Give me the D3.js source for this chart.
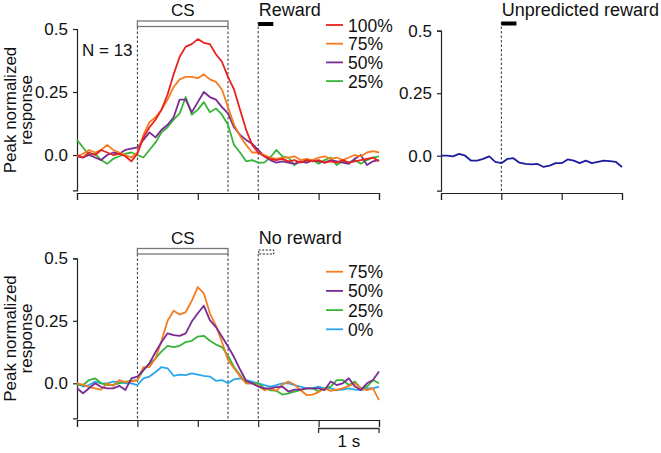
<!DOCTYPE html>
<html><head><meta charset="utf-8">
<script src="https://cdn.jsdelivr.net/npm/d3@7"></script>
<style>
body{margin:0;background:#fff;}
svg{display:block;font-family:"Liberation Sans",Arial,Helvetica,sans-serif;}
</style></head><body>
<svg id="c" width="661" height="453"></svg>
<script>
// ---------- DATA ----------
// time grid (s, relative to CS onset), 0.1 s steps from -1 to 4
const time = d3.range(51).map(i => +(-1 + i * 0.1).toFixed(2));
// time grid for unpredicted reward (s, relative to reward), -1 to 2
const timeUnpred = d3.range(31).map(i => +(-1 + i * 0.1).toFixed(2));

const topLabels = ["100%", "75%", "50%", "25%"];
const bottomLabels = ["75%", "50%", "25%", "0%"];
const yTickValues = [0, 0.25, 0.5];
const yTickLabels = ["0.0", "0.25", "0.5"];
const xTicksMain = [-1, 0, 1, 2, 3, 4];
const xTicksUnpred = [-1, 0, 1, 2];

// Rewarded trials
const top100 = [0.0,-0.01,0.01,0.0,0.02,0.01,0.0,0.005,-0.005,-0.025,
  0.005,0.07,0.11,0.14,0.18,0.24,0.32,0.39,0.43,0.44,
  0.46,0.445,0.44,0.40,0.37,0.31,0.26,0.18,0.10,0.04,
  0.01,-0.005,-0.015,-0.02,-0.015,-0.025,-0.02,-0.03,-0.02,-0.025,
  -0.02,-0.03,-0.025,-0.03,-0.02,-0.03,-0.025,-0.02,-0.015,-0.01,-0.025];
const top75 = [-0.005,0.005,0.02,0.01,0.02,0.04,0.02,0.01,0.0,-0.01,
  0.01,0.08,0.13,0.15,0.18,0.22,0.27,0.30,0.31,0.31,
  0.305,0.32,0.30,0.29,0.26,0.19,0.12,0.075,0.04,0.01,
  0.01,0.0,-0.01,-0.015,-0.01,-0.01,-0.005,-0.02,-0.015,-0.02,
  -0.01,-0.005,-0.015,-0.01,-0.02,-0.01,0.0,-0.005,0.01,0.015,0.01];
const top50 = [-0.005,-0.01,0.0,-0.01,-0.02,0.0,0.01,0.005,0.02,0.025,
  0.03,0.06,0.09,0.07,0.10,0.12,0.15,0.22,0.22,0.17,
  0.21,0.25,0.23,0.22,0.19,0.165,0.11,0.08,0.06,0.045,
  0.02,-0.005,-0.02,-0.03,-0.025,-0.03,-0.035,-0.025,-0.03,-0.02,
  -0.025,-0.03,-0.02,-0.025,-0.03,-0.035,-0.015,0.0,-0.04,-0.025,-0.02];
const top25 = [0.06,0.03,0.0,0.005,-0.02,-0.035,-0.015,-0.005,0.005,0.01,
  0.0,-0.01,0.02,0.05,0.09,0.11,0.14,0.165,0.23,0.16,
  0.18,0.21,0.17,0.185,0.16,0.12,0.04,0.01,-0.025,-0.02,
  -0.03,-0.03,-0.01,0.02,-0.005,-0.01,-0.04,-0.025,-0.03,-0.02,
  -0.035,-0.02,-0.01,-0.04,-0.025,-0.03,-0.02,-0.035,-0.02,-0.01,-0.005];

// Unpredicted reward
const unpredicted = [0.0,0.0,-0.003,0.007,0.0,-0.02,-0.02,-0.013,-0.003,-0.025,
  -0.03,-0.013,-0.01,-0.028,-0.033,-0.035,-0.033,-0.045,-0.04,-0.03,
  -0.03,-0.015,-0.02,-0.03,-0.02,-0.03,-0.025,-0.02,-0.022,-0.025,-0.045];

// Unrewarded trials
const bot75 = [0.0,-0.005,-0.015,-0.02,-0.025,0.0,-0.01,0.013,0.005,0.007,
  0.013,0.065,0.065,0.10,0.17,0.25,0.29,0.275,0.285,0.33,
  0.385,0.36,0.28,0.23,0.165,0.093,0.06,0.027,0.0,0.0,
  -0.01,-0.027,-0.02,-0.03,-0.005,0.007,-0.005,-0.027,-0.047,-0.045,
  -0.035,-0.02,-0.03,-0.025,-0.02,-0.01,0.0,-0.02,-0.027,-0.02,-0.067];
const bot50 = [-0.02,-0.04,-0.02,0.0,-0.015,-0.02,-0.02,-0.01,-0.027,0.02,
  0.027,0.053,0.08,0.125,0.165,0.20,0.193,0.19,0.20,0.247,
  0.28,0.31,0.253,0.225,0.187,0.147,0.105,0.055,0.01,0.0,
  -0.013,-0.02,-0.02,-0.015,-0.013,-0.033,-0.025,-0.025,-0.02,-0.02,
  -0.02,-0.027,0.007,-0.007,0.0,0.02,-0.013,-0.027,0.0,0.013,0.047];
const bot25 = [-0.007,-0.007,0.013,0.02,0.0,-0.007,-0.005,0.0,0.007,0.01,
  0.013,0.053,0.078,0.10,0.128,0.15,0.145,0.15,0.165,0.17,
  0.187,0.19,0.17,0.155,0.145,0.11,0.065,0.033,0.0,0.0,
  0.0,-0.02,-0.027,-0.03,-0.045,-0.04,-0.033,-0.027,-0.02,-0.02,
  -0.033,-0.02,-0.013,0.013,0.013,-0.007,0.007,-0.02,-0.013,0.013,0.0];
const bot0 = [0.0,-0.013,-0.007,0.007,0.0,0.0,0.007,0.005,0.0,0.0,
  -0.007,0.02,0.027,0.045,0.065,0.06,0.03,0.035,0.033,0.04,
  0.035,0.03,0.027,0.01,0.013,0.0,0.016,0.02,0.013,0.007,
  0.0,-0.007,-0.013,-0.007,0.0,0.0,-0.007,-0.013,-0.02,-0.02,
  -0.013,-0.02,-0.02,-0.027,-0.025,-0.02,-0.025,-0.027,-0.02,-0.02,-0.013];

// Events (s, relative to CS onset)
const csOn = 0, csOff = 1.5, rewardOn = 2, rewardOff = 2.25;

// ---------- STYLE ----------
const C = {r100:"#e8221e", o75:"#f57d20", p50:"#7b2a94", g25:"#38b538", b0:"#2aa6ea", navy:"#1c1ca0"};
const FS = 17;
const FSW = 18;
const svg = d3.select("#c");

function panel(opts) {
  const x = d3.scaleLinear().domain(opts.xDomain).range(opts.xRange);
  const y = d3.scaleLinear().domain([-0.14, 0.5]).range(opts.yRange);
  const g = svg.append("g");

  const ya = g.append("g").attr("transform", `translate(${opts.xRange[0]},0)`)
    .call(d3.axisLeft(y).tickValues(yTickValues).tickFormat((d,i)=>yTickLabels[i]).tickSizeOuter(0).tickSize(4).tickPadding(5));
  const xa = g.append("g").attr("transform", `translate(0,${opts.xAxisY})`)
    .call(d3.axisBottom(x).tickValues(opts.xTicks).tickFormat("").tickSizeOuter(0).tickSize(7));
  [ya, xa].forEach(a => {
    a.select(".domain").attr("stroke", "#222").attr("stroke-width", 1.2);
    a.selectAll(".tick line").attr("stroke", "#222").attr("stroke-width", 1.2);
    a.selectAll(".tick text").attr("font-size", FS).attr("fill", "#111")
      .attr("font-family", '"Liberation Sans",Arial,sans-serif');
  });

  (opts.dashes || []).forEach(d => {
    g.append("line").attr("x1", x(d.t)).attr("x2", x(d.t))
      .attr("y1", d.top).attr("y2", opts.xAxisY)
      .attr("stroke", "#333").attr("stroke-width", 1).attr("stroke-dasharray", "2.5,2");
  });

  const line = d3.line().x((d, i) => x(opts.t[i])).y(d => y(d));
  opts.series.forEach(s => {
    g.append("path").datum(s.v).attr("d", line).attr("fill", "none")
      .attr("stroke", s.c).attr("stroke-width", 1.8).attr("stroke-linejoin", "round");
  });
  return {x, y, g};
}

const tl = panel({
  xDomain: [-1, 4], xRange: [77, 379], yRange: [190.3, 29], xAxisY: 193, xTicks: xTicksMain, t: time,
  dashes: [{t: csOn, top: 27}, {t: csOff, top: 27}, {t: rewardOn, top: 22}],
  series: [
    {v: top25, c: C.g25}, {v: top50, c: C.p50}, {v: top75, c: C.o75}, {v: top100, c: C.r100}
  ]
});
const tr = panel({
  xDomain: [-1, 2], xRange: [441, 622], yRange: [190.7, 30.7], xAxisY: 193, xTicks: xTicksUnpred, t: timeUnpred,
  dashes: [{t: 0, top: 22}],
  series: [{v: unpredicted, c: C.navy}]
});
const bl = panel({
  xDomain: [-1, 4], xRange: [77, 379], yRange: [418.3, 258.3], xAxisY: 420, xTicks: xTicksMain, t: time,
  dashes: [{t: csOn, top: 254}, {t: csOff, top: 254}, {t: rewardOn, top: 254}],
  series: [
    {v: bot0, c: C.b0}, {v: bot25, c: C.g25}, {v: bot75, c: C.o75}, {v: bot50, c: C.p50}
  ]
});

function txt(x, y, s, anchor, fs) {
  return svg.append("text").attr("x", x).attr("y", y).attr("font-size", fs || FS)
    .attr("fill", "#111").attr("text-anchor", anchor || "start").text(s);
}
[[tl, 21, 15.5], [bl, 248.5, 243.5]].forEach(([p, yb, yt]) => {
  svg.append("rect").attr("x", p.x(csOn)).attr("y", yb).attr("width", p.x(csOff) - p.x(csOn)).attr("height", 5.5)
    .attr("fill", "#fff").attr("stroke", "#777").attr("stroke-width", 1.3);
  txt((p.x(csOn) + p.x(csOff)) / 2, yt, "CS", "middle");
});
svg.append("rect").attr("x", tl.x(rewardOn)).attr("y", 22).attr("width", tl.x(rewardOff) - tl.x(rewardOn)).attr("height", 4).attr("fill", "#000");
txt(tl.x(rewardOn) + 0.5, 16, "Reward", "start", FSW);
svg.append("rect").attr("x", tr.x(0)).attr("y", 21.5).attr("width", tr.x(0.25) - tr.x(0)).attr("height", 4).attr("fill", "#000");
txt(tr.x(0) + 0.5, 16, "Unpredicted reward", "start", FSW);
svg.append("rect").attr("x", bl.x(rewardOn) + 0.5).attr("y", 250).attr("width", bl.x(rewardOff) - bl.x(rewardOn)).attr("height", 4)
  .attr("fill", "none").attr("stroke", "#000").attr("stroke-width", 0.9).attr("stroke-dasharray", "2,1.5");
txt(bl.x(rewardOn) + 0.5, 243.5, "No reward", "start", FSW);
txt(82, 56, "N = 13");

[[110], [338.5]].forEach(([cy]) => {
  const t = svg.append("text").attr("transform", `translate(16,${cy}) rotate(-90)`)
    .attr("font-size", FS).attr("fill", "#111").attr("text-anchor", "middle");
  t.append("tspan").attr("x", 0).attr("y", 0).text("Peak normalized");
  t.append("tspan").attr("x", 0).attr("y", 15.5).text("response");
});

function legend(labels, colors, y0, dy) {
  labels.forEach((l, i) => {
    const yy = y0 + i * dy;
    svg.append("line").attr("x1", 326).attr("x2", 343).attr("y1", yy).attr("y2", yy)
      .attr("stroke", colors[i]).attr("stroke-width", 1.8);
    txt(348, yy + 6.5, l, "start", 17.5);
  });
}
legend(topLabels, [C.r100, C.o75, C.p50, C.g25], 25, 18.7);
legend(bottomLabels, [C.o75, C.p50, C.g25, C.b0], 271.7, 19.2);

svg.append("path")
  .attr("d", `M${bl.x(3)},433V428.5H${bl.x(4)}V433`)
  .attr("fill", "none").attr("stroke", "#333").attr("stroke-width", 1.3);
txt((bl.x(3) + bl.x(4)) / 2, 446.5, "1 s", "middle");
</script></body></html>
